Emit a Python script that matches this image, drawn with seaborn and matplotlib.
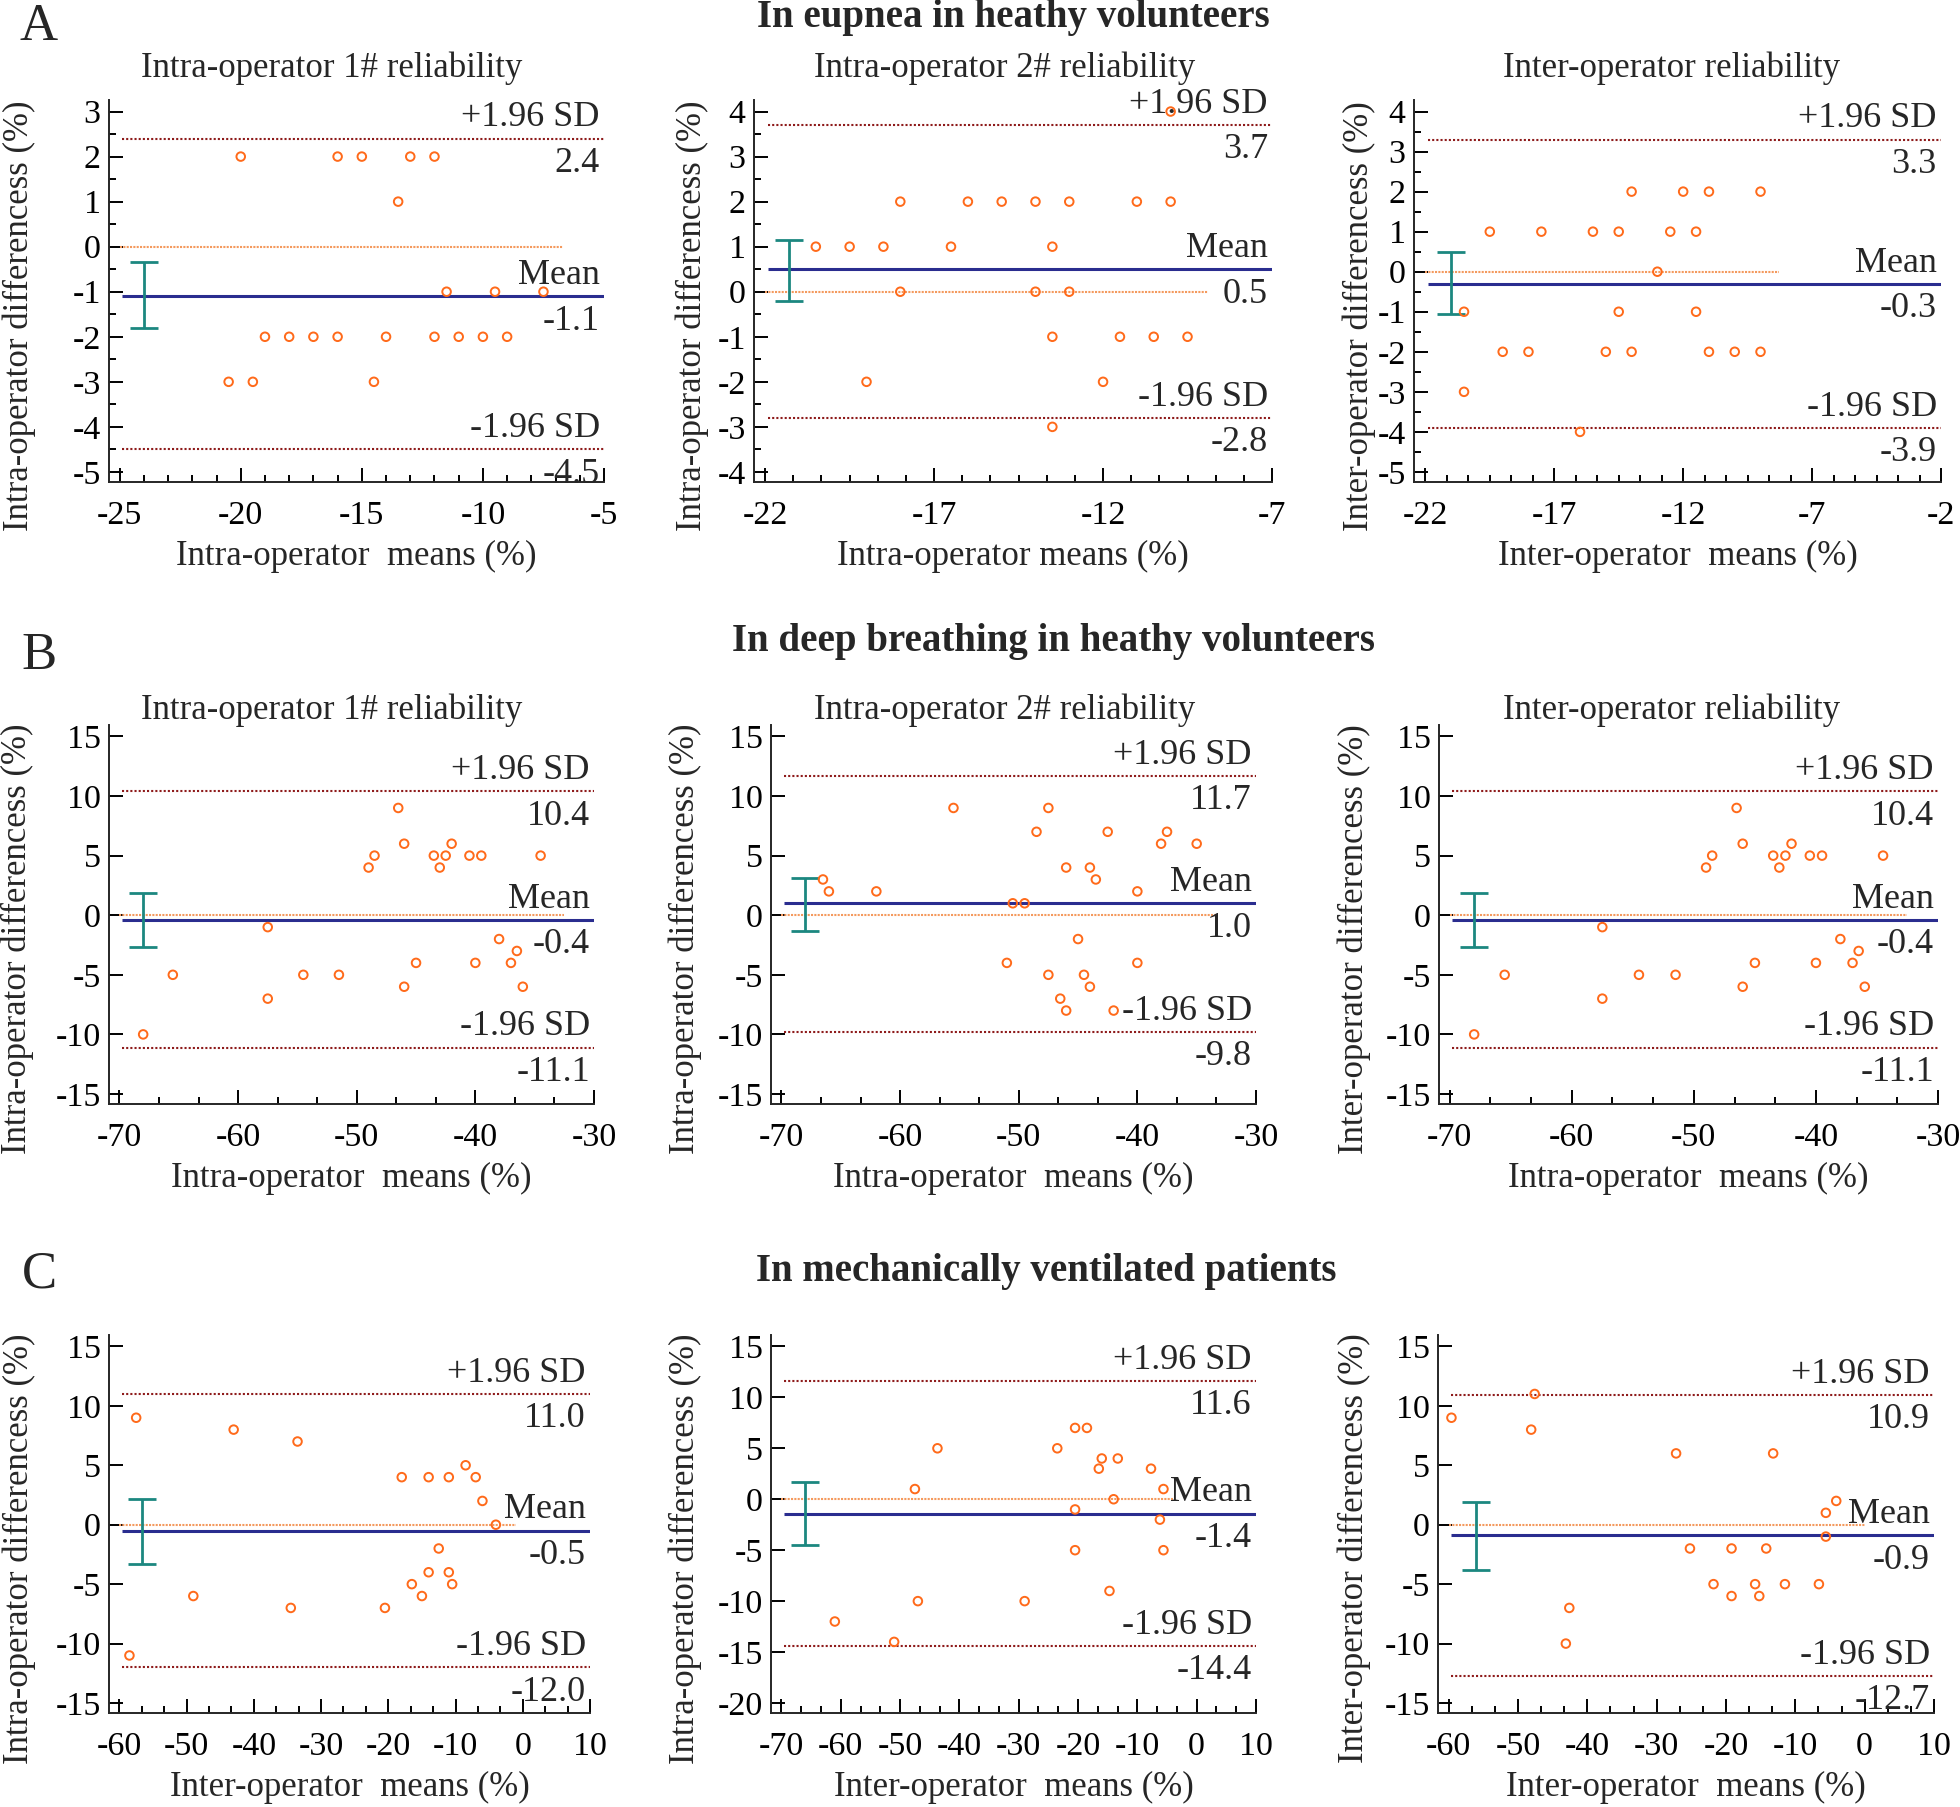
import matplotlib
matplotlib.use("Agg")
import matplotlib.pyplot as plt
from matplotlib.ticker import MultipleLocator, AutoMinorLocator, NullLocator
import numpy as np
import pandas as pd
import seaborn as sns

# ---- data (Bland-Altman panels) ----
# Row A: eupnea in healthy volunteers
a1_x = [-20, -16, -15, -13, -12, -13.5, -11.5, -9.5, -7.5, -19, -18, -17, -16, -14,
        -12, -11, -10, -9, -20.5, -19.5, -14.5]
a1_y = [2, 2, 2, 2, 2, 1, -1, -1, -1, -2, -2, -2, -2, -2, -2, -2, -2, -2, -3, -3, -3]
a2_x = [-10, -18, -16, -15, -14, -13, -11, -10, -20.5, -19.5, -18.5, -16.5, -13.5,
        -18, -14, -13, -13.5, -11.5, -10.5, -9.5, -19, -12, -13.5]
a2_y = [4, 2, 2, 2, 2, 2, 2, 2, 1, 1, 1, 1, 1, 0, 0, 0, -1, -1, -1, -1, -2, -2, -3]
a3_x = [-14, -12, -11, -9, -19.5, -17.5, -15.5, -14.5, -12.5, -11.5, -13, -20.5,
        -14.5, -11.5, -19, -18, -15, -14, -11, -10, -9, -20.5, -16]
a3_y = [2, 2, 2, 2, 1, 1, 1, 1, 1, 1, 0, -1, -1, -1, -2, -2, -2, -2, -2, -2, -2, -3, -4]

# Row B: deep breathing in healthy volunteers
b1_x = [-68, -65.5, -57.5, -57.5, -54.5, -51.5, -49, -48.5, -46.5, -46, -46, -45,
        -43.5, -43, -42.5, -42, -40.5, -40, -39.5, -38, -37, -36.5, -36, -34.5]
b1_y = [-10, -5, -1, -7, -5, -5, 4, 5, 9, 6, -6, -4, 5, 4, 5, 6, 5, -4, 5, -2, -4, -3, -6, 5]
b2_x = [-66.5, -66, -62, -55.5, -51, -50.5, -49.5, -48.5, -47.5, -47.5, -46.5, -46,
        -46, -45, -44.5, -44, -44, -43.5, -42.5, -42, -40, -40, -38, -37.5, -35]
b2_y = [3, 2, 2, 9, -4, 1, 1, 7, 9, -5, -7, 4, -8, -2, -5, 4, -6, 3, 7, -8, 2, -4, 6, 7, 6]
b3_x = b1_x
b3_y = b1_y

# Row C: mechanically ventilated patients
c1_x = [-57.5, -58.5, -49, -43, -34.5, -33.5, -20.5, -18, -16.5, -15, -14, -14,
        -12.5, -11, -11, -10.5, -8.5, -7, -6, -4]
c1_y = [9, -11, -6, 8, -7, 7, -7, 4, -5, -6, 4, -4, -2, 4, -4, -5, 5, 4, 2, 0]
c2_x = [-61, -51, -47.5, -47, -43.7, -29, -23.5, -20.5, -20.5, -20.5, -18.5, -16.5,
        -16, -14.7, -14, -13.3, -7.7, -6.2, -5.6, -5.6]
c2_y = [-12, -14, 1, -10, 5, -10, 5, 7, -1, -5, 7, 3, 4, -9, 0, 4, 3, -2, 1, -5]
c3_x = [-59.6, -47.6, -48.1, -42.6, -43.1, -27.2, -25.2, -21.8, -19.2, -19.2, -15.8,
        -15.2, -14.2, -13.2, -11.5, -6.6, -5.6, -5.6, -4.1]
c3_y = [9, 11, 8, -7, -10, 6, -2, -5, -2, -6, -5, -6, -2, 6, -5, -5, 1, -1, 2]

# mean difference, +1.96 SD, -1.96 SD, CI of mean (low, high)
means = [-1.1, 0.5, -0.3, -0.4, 1.0, -0.4, -0.5, -1.4, -0.9]
upper = [2.4, 3.7, 3.3, 10.4, 11.7, 10.4, 11.0, 11.6, 10.9]
lower = [-4.5, -2.8, -3.9, -11.1, -9.8, -11.1, -12.0, -14.4, -12.7]
ci_low = [-1.8, -0.2, -1.05, -2.7, -1.3, -2.7, -3.3, -4.5, -3.8]
ci_high = [-0.35, 1.15, 0.5, 1.9, 3.1, 1.9, 2.2, 1.7, 1.9]

row_titles = ["In eupnea in heathy volunteers",
              "In deep breathing in heathy volunteers",
              "In mechanically ventilated patients"]
row_letters = ["A", "B", "C"]
subtitles = ["Intra-operator 1# reliability", "Intra-operator 2# reliability",
             "Inter-operator reliability"]
intra_diff = "Intra-operator differencess (%)"
inter_diff = "Inter-operator differencess (%)"
ylabels = [intra_diff, intra_diff, inter_diff] * 3
xlabels = ["Intra-operator  means (%)", "Intra-operator means (%)", "Inter-operator  means (%)",
           "Intra-operator  means (%)", "Intra-operator  means (%)", "Intra-operator  means (%)",
           "Inter-operator  means (%)", "Inter-operator  means (%)", "Inter-operator  means (%)"]

# tick ranges (start, stop, step)
xticks = [(-25, -5, 5), (-22, -7, 5), (-22, -2, 5),
          (-70, -30, 10), (-70, -30, 10), (-70, -30, 10),
          (-60, 10, 10), (-70, 10, 10), (-60, 10, 10)]
yticks = [(-5, 3, 1), (-4, 4, 1), (-5, 4, 1),
          (-15, 15, 5), (-15, 15, 5), (-15, 15, 5),
          (-15, 15, 5), (-20, 15, 5), (-15, 15, 5)]
xminor = [5, 6, 6, 3, 3, 3, 3, 3, 3]
yminor = [2, 2, 2, 0, 0, 0, 0, 0, 0]
ci_pos = [-24, -21.3, -21, -68, -68, -68, -56.6, -66, -56.1]
zero_end = [-6.7, -8.9, -8.3, -32.5, -33.2, -32.5, -1, -4, 0]

points = [(a1_x, a1_y), (a2_x, a2_y), (a3_x, a3_y),
          (b1_x, b1_y), (b2_x, b2_y), (b3_x, b3_y),
          (c1_x, c1_y), (c2_x, c2_y), (c3_x, c3_y)]

# ---- layout in pixels (left, right, top, bottom) ----
W, H = 1960, 1807
rects = [(109, 604, 100, 482), (754, 1272, 100, 482), (1414, 1941, 100, 482),
         (109, 594, 725, 1104), (771, 1256, 725, 1104), (1439, 1938, 725, 1104),
         (109, 590, 1335, 1713), (771, 1256, 1335, 1713), (1438, 1934, 1335, 1713)]
ylab_off = [90, 62, 55, 92, 86, 85, 90, 86, 84]

ORANGE = "#FF6A1A"
ZERO_C = "#F49A5E"
MEAN_C = "#2A2D8F"
SD_C = "#8E1B1B"
CI_C = "#1C8780"

sns.set_style("ticks")
plt.rcParams["font.family"] = ["Liberation Serif", "DejaVu Serif"]
plt.rcParams["axes.linewidth"] = 1.4

fig = plt.figure(figsize=(W / 100, H / 100), dpi=100)

for i in range(9):
    l, r, t, b = rects[i]
    ax = fig.add_axes([l / W, 1 - b / H, (r - l) / W, (b - t) / H])
    x0, x1, xs = xticks[i]
    y0, y1, ys = yticks[i]
    ax.set_xlim(x0 - 0.022 * (x1 - x0), x1)
    ax.set_ylim(y0 - 0.028 * (y1 - y0), y1 + 0.032 * (y1 - y0))
    ax.set_xticks(np.arange(x0, x1 + xs / 2, xs))
    ax.set_yticks(np.arange(y0, y1 + ys / 2, ys))
    ax.xaxis.set_minor_locator(AutoMinorLocator(xminor[i]))
    if yminor[i]:
        ax.yaxis.set_minor_locator(AutoMinorLocator(yminor[i]))
    else:
        ax.yaxis.set_minor_locator(NullLocator())

    # reference lines
    ax.hlines(0, x0, zero_end[i], color=ZERO_C, lw=1.5, linestyles=(0, (1, 0.6)), zorder=1)
    ax.hlines(upper[i], x0 + 0.005 * (x1 - x0), x1, color=SD_C, lw=1.5,
              linestyles=(0, (1, 1)), zorder=1)
    ax.hlines(lower[i], x0 + 0.005 * (x1 - x0), x1, color=SD_C, lw=1.5,
              linestyles=(0, (1, 1)), zorder=1)
    ax.hlines(means[i], x0 + 0.005 * (x1 - x0), x1, color=MEAN_C, lw=2.2, zorder=2)
    ax.errorbar(ci_pos[i], means[i],
                yerr=[[means[i] - ci_low[i]], [ci_high[i] - means[i]]],
                color=CI_C, capsize=10, elinewidth=2, capthick=2, zorder=3)

    px, py = points[i]
    df = pd.DataFrame({"mean": px, "diff": py})
    sns.scatterplot(data=df, x="mean", y="diff", ax=ax, marker="o", s=38,
                    facecolor="none", edgecolor=ORANGE, linewidth=1.4, zorder=4)

    # labels on the lines
    kw = dict(xycoords=("axes fraction", "data"), textcoords="offset points",
              ha="right", fontsize=26)
    ax.annotate("+1.96 SD", (1, upper[i]), xytext=(-3, 3), va="bottom", **kw)
    ax.annotate(f"{upper[i]:.1f}", (1, upper[i]), xytext=(-3, -6), va="top", **kw)
    ax.annotate("Mean", (1, means[i]), xytext=(-3, 3), va="bottom", **kw)
    ax.annotate(f"{means[i]:.1f}", (1, means[i]), xytext=(-3, -6), va="top", **kw)
    ax.annotate("-1.96 SD", (1, lower[i]), xytext=(-3, 3), va="bottom", **kw)
    ax.annotate(f"{lower[i]:.1f}", (1, lower[i]), xytext=(-3, -6), va="top", **kw)

    sns.despine(ax=ax)
    ax.tick_params(which="both", direction="in", width=1.4, labelsize=24.5, colors="black")
    ax.tick_params(which="major", length=10)
    ax.tick_params(which="minor", length=5)
    ax.tick_params(axis="x", pad=13)
    ax.tick_params(axis="y", pad=6)
    ax.set_xticklabels([f"{v:g}" for v in ax.get_xticks()])
    ax.set_yticklabels([f"{v:g}" for v in ax.get_yticks()])

    ax.set_xlabel(xlabels[i], fontsize=25)
    ax.set_ylabel(ylabels[i], fontsize=25)
    ax.xaxis.set_label_coords(0.5, -74 / (b - t))
    ax.yaxis.set_label_coords(-ylab_off[i] / (r - l), 0.435)
    ax.xaxis.label.set_va("center")
    ax.yaxis.label.set_va("center")

# row titles, letters, panel subtitles
title_pos = [(1013, 18), (1053, 641), (1046, 1272)]
letter_pos = [(39, 27), (39, 656), (39, 1274)]
for k in range(3):
    fig.text(title_pos[k][0] / W, 1 - title_pos[k][1] / H, row_titles[k],
             ha="center", va="center", fontsize=28, fontweight="bold")
    fig.text(letter_pos[k][0] / W, 1 - letter_pos[k][1] / H, row_letters[k],
             ha="center", va="center", fontsize=38)

sub_x = [332, 1005, 1672]
for row_y in [68, 710]:
    for k in range(3):
        fig.text(sub_x[k] / W, 1 - row_y / H, subtitles[k], ha="center", va="center",
                 fontsize=25)

fig.savefig("out.png", dpi=100)
